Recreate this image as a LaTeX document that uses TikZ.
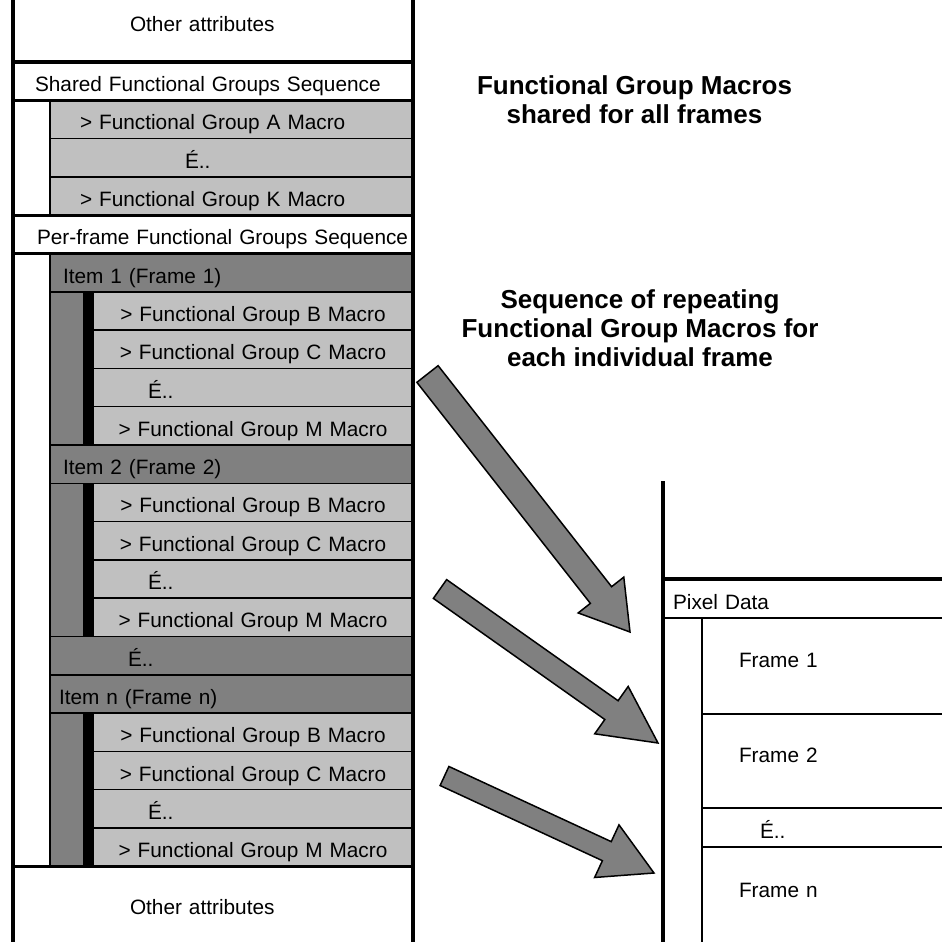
\documentclass[tikz,border=0pt]{standalone}
\usepackage{fontspec}
\setmainfont{Liberation Sans}
\usetikzlibrary{calc}
\definecolor{lightrow}{HTML}{C0C0C0}
\definecolor{darkrow}{HTML}{808080}

% fat arrow: tail, tip, half shaft, half head, head length
\newcommand{\blockarrow}[5]{%
  \coordinate (#1-h) at ($(#2)!#5pt!(#1)$);
  \draw[bigarrow] ($(#1)!#3pt!90:(#2)$) -- ($(#1-h)!#3pt!90:(#2)$) -- ($(#1-h)!#4pt!90:(#2)$)
    -- (#2) -- ($(#1-h)!#4pt!-90:(#2)$) -- ($(#1-h)!#3pt!-90:(#2)$) -- ($(#1)!#3pt!-90:(#2)$) -- cycle;}

\begin{document}
\begin{tikzpicture}[x=1pt, y=-1pt,
        font=\fontsize{20.8}{24}\selectfont,
        row/.style={draw=black, line width=1.5pt, anchor=north west, inner sep=0pt, outer sep=0pt,
          minimum height=38.3pt, text height=21pt, text depth=0pt, align=left},
        plain/.style={row, fill=white},
        light/.style={row, fill=lightrow},
        dark/.style={row, fill=darkrow},
        full/.style={text width=400pt},
        half/.style={text width=363pt},
        sub/.style={text width=320pt, align=center},
        ind/.style={execute at begin node={\hspace*{#1pt}}},
        tall/.style={text height=10pt, text depth=8pt},
        heavy/.style={line width=3.2pt, line cap=rect},
        title/.style={font=\bfseries\fontsize{26}{29}\selectfont, align=center, inner sep=0pt},
        bigarrow/.style={draw=black, line width=1.5pt, fill=darkrow, line join=miter}
    ]
    \clip (0,0) rectangle (942,942);

    % Left column - shared groups
    \node[plain, full, ind=117, minimum height=82pt] (topattr) at (13,-20) {Other attributes};
    \node[plain, full, ind=22] (shared) at (13,62) {Shared Functional Groups Sequence};
    \node[light, half, ind=30] (fgA) at (50,100.3) {> Functional Group A Macro};
    \node[light, half, ind=135] (fgdots) at (50,138.6) {É..};
    \node[light, half, ind=30] (fgK) at (50,176.9) {> Functional Group K Macro};

    % Left column - per-frame groups, item 1
    \node[plain, full, ind=24] (perframe) at (13,215.2) {Per-frame Functional Groups Sequence};
    \node[dark, half, ind=13] (item1) at (50,253.5) {Item 1 (Frame 1)};
    \node[dark, minimum width=34pt, minimum height=153.2pt] (col1) at (50,291.8) {};
    \node[row, fill=black, minimum width=9pt, minimum height=153.2pt] (bar1) at (84,291.8) {};
    \node[light, sub] (fB1) at (93,291.8) {> Functional Group B Macro};
    \node[light, sub] (fC1) at (93,330.1) {> Functional Group C Macro};
    \node[light, text width=320pt, ind=55] (fdots1) at (93,368.4) {É..};
    \node[light, sub] (fM1) at (93,406.7) {> Functional Group M Macro};

    % item 2
    \node[dark, half, ind=13] (item2) at (50,445) {Item 2 (Frame 2)};
    \node[dark, minimum width=34pt, minimum height=153.2pt] (col2) at (50,483.3) {};
    \node[row, fill=black, minimum width=9pt, minimum height=153.2pt] (bar2) at (84,483.3) {};
    \node[light, sub] (fB2) at (93,483.3) {> Functional Group B Macro};
    \node[light, sub] (fC2) at (93,521.6) {> Functional Group C Macro};
    \node[light, text width=320pt, ind=55] (fdots2) at (93,559.9) {É..};
    \node[light, sub] (fM2) at (93,598.2) {> Functional Group M Macro};
    \node[dark, half, ind=78] (itemdots) at (50,636.5) {É..};

    % item n
    \node[dark, half, ind=9] (itemn) at (50,674.8) {Item n (Frame n)};
    \node[dark, minimum width=34pt, minimum height=153.2pt] (coln) at (50,713.1) {};
    \node[row, fill=black, minimum width=9pt, minimum height=153.2pt] (barn) at (84,713.1) {};
    \node[light, sub] (fBn) at (93,713.1) {> Functional Group B Macro};
    \node[light, sub] (fCn) at (93,751.4) {> Functional Group C Macro};
    \node[light, text width=320pt, ind=55] (fdotsn) at (93,789.7) {É..};
    \node[light, sub] (fMn) at (93,828) {> Functional Group M Macro};
    \node[plain, full, tall, ind=117, minimum height=95pt] (botattr) at (13,866.3) {Other attributes};

    % heavy outline of the left column
    \draw[heavy] (topattr.north west) -- (botattr.south west);
    \draw[heavy] (topattr.north east) -- (botattr.south east);
    \draw[heavy] (topattr.south west) -- (topattr.south east);
    \draw[heavy] (shared.south west) -- (shared.south east);
    \draw[heavy] (perframe.north west) -- (perframe.north east);
    \draw[heavy] (perframe.south west) -- (perframe.south east);
    \draw[heavy] (botattr.north west) -- (botattr.north east);

    % Right column - pixel data
    \coordinate (pixtop) at (663,483);
    \node[plain, text width=300pt, minimum height=39pt, ind=10] (pixhdr) at (663,579) {Pixel Data};
    \node[plain, tall, text width=260pt, minimum height=96pt, ind=37] (frame1) at (702,618) {Frame 1};
    \node[plain, tall, text width=260pt, minimum height=94pt, ind=37] (frame2) at (702,714) {Frame 2};
    \node[plain, text width=260pt, minimum height=39pt, ind=58] (framedots) at (702,808) {É..};
    \node[plain, text width=260pt, minimum height=115pt, text height=2pt, text depth=17pt, ind=37] (framen) at (702,847) {Frame n};
    \draw[heavy] (pixtop) -- (pixtop |- framen.south);
    \draw[heavy] (pixhdr.north west) -- (pixhdr.north east);

    % Titles
    \node[title] (sharedtitle) at (634.5,100) {Functional Group Macros\\shared for all frames};
    \node[title] (frametitle) at (640,328.5) {Sequence of repeating\\Functional Group Macros for\\each individual frame};

    % Arrows to the frames
    \coordinate (a1s) at (427.5,374);
    \coordinate (a1e) at (630,632);
    \coordinate (a2s) at (440,589);
    \coordinate (a2e) at (658,743);
    \coordinate (a3s) at (444.5,776);
    \coordinate (a3e) at (654,873);
    \blockarrow{a1s}{a1e}{13.5}{29}{47}
    \blockarrow{a2s}{a2e}{11.5}{29}{57}
    \blockarrow{a3s}{a3e}{10.5}{29}{52}

\end{tikzpicture}
\end{document}
